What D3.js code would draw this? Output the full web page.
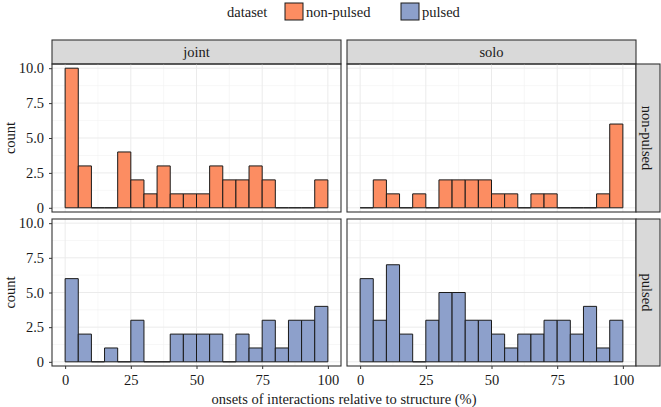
<!DOCTYPE html>
<html>
<head>
<meta charset="utf-8">
<script src="https://cdn.jsdelivr.net/npm/d3@7"></script>
<style>
  body { margin: 0; background: #fff; }
  svg text { font-family: "Liberation Serif", "Times New Roman", serif; fill: #1a1a1a; }
</style>
</head>
<body>
<div id="plot"></div>
<script>
// bins of width 5 from 0 to 100
var binStarts = [0, 5, 10, 15, 20, 25, 30, 35, 40, 45, 50, 55, 60, 65, 70, 75, 80, 85, 90, 95];
var columns = ["joint", "solo"];
var rows = ["non-pulsed", "pulsed"];

// counts per bin
var jointNonPulsed = [10, 3, 0, 0, 4, 2, 1, 3, 1, 1, 1, 3, 2, 2, 3, 2, 0, 0, 0, 2];
var soloNonPulsed  = [0, 2, 1, 0, 1, 0, 2, 2, 2, 2, 1, 1, 0, 1, 1, 0, 0, 0, 1, 6];
var jointPulsed    = [6, 2, 0, 1, 0, 3, 0, 0, 2, 2, 2, 2, 0, 2, 1, 3, 1, 3, 3, 4];
var soloPulsed     = [6, 3, 7, 2, 0, 3, 5, 5, 3, 3, 2, 1, 2, 2, 3, 3, 2, 4, 1, 3];

var xTicks = [0, 25, 50, 75, 100];
var xMinor = [12.5, 37.5, 62.5, 87.5];
var yTicks = [0, 2.5, 5, 7.5, 10];
var yMinor = [1.25, 3.75, 6.25, 8.75];

var colors = { "non-pulsed": "#FC8D62", "pulsed": "#8DA0CB" };
var counts = {
  "joint|non-pulsed": jointNonPulsed,
  "solo|non-pulsed": soloNonPulsed,
  "joint|pulsed": jointPulsed,
  "solo|pulsed": soloPulsed
};

var w = 661, h = 407;
var colX = [[52, 341], [347, 636]];
var rowY = [[64, 212], [219, 366]];
var serif = "'Liberation Serif', 'Times New Roman', serif";
var fs = "14.5px";

var svg = d3.select("#plot").append("svg")
  .attr("width", w).attr("height", h)
  .attr("font-family", serif);

var fmtY = function(d) { return d === 0 ? "0" : d3.format(".1f")(d); };

columns.forEach(function(col, ci) {
  var xScale = d3.scaleLinear().domain([-5, 105]).range(colX[ci]);

  // top strip
  svg.append("rect")
    .attr("x", colX[ci][0]).attr("y", 40)
    .attr("width", colX[ci][1] - colX[ci][0]).attr("height", 24)
    .attr("fill", "#d9d9d9").attr("stroke", "#333").attr("stroke-width", 1.1);
  svg.append("text")
    .attr("x", (colX[ci][0] + colX[ci][1]) / 2).attr("y", 57)
    .attr("text-anchor", "middle").style("font-size", fs)
    .text(col);

  rows.forEach(function(row, ri) {
    var yScale = d3.scaleLinear().domain([-0.3, 10.3]).range([rowY[ri][1], rowY[ri][0]]);
    var g = svg.append("g");
    var x0 = colX[ci][0], x1 = colX[ci][1], y0 = rowY[ri][0], y1 = rowY[ri][1];

    // grid lines
    g.selectAll(".xminor").data(xMinor).enter().append("line")
      .attr("x1", function(d) { return xScale(d); }).attr("x2", function(d) { return xScale(d); })
      .attr("y1", y0).attr("y2", y1)
      .attr("stroke", "#f2f2f2").attr("stroke-width", 0.6);
    g.selectAll(".yminor").data(yMinor).enter().append("line")
      .attr("y1", function(d) { return yScale(d); }).attr("y2", function(d) { return yScale(d); })
      .attr("x1", x0).attr("x2", x1)
      .attr("stroke", "#f2f2f2").attr("stroke-width", 0.6);
    g.selectAll(".xmajor").data(xTicks).enter().append("line")
      .attr("x1", function(d) { return xScale(d); }).attr("x2", function(d) { return xScale(d); })
      .attr("y1", y0).attr("y2", y1)
      .attr("stroke", "#ebebeb").attr("stroke-width", 1);
    g.selectAll(".ymajor").data(yTicks).enter().append("line")
      .attr("y1", function(d) { return yScale(d); }).attr("y2", function(d) { return yScale(d); })
      .attr("x1", x0).attr("x2", x1)
      .attr("stroke", "#ebebeb").attr("stroke-width", 1);

    // histogram bars (paths so empty bins still show as a baseline)
    g.selectAll(".bar").data(counts[col + "|" + row]).enter().append("path")
      .attr("d", function(d, i) {
        var a = xScale(binStarts[i]), b = xScale(binStarts[i] + 5);
        var base = yScale(0), top = yScale(d);
        return "M" + a + "," + base + "V" + top + "H" + b + "V" + base + "Z";
      })
      .attr("fill", colors[row])
      .attr("stroke", "#1a1a1a").attr("stroke-width", 1);

    // panel border
    g.append("rect")
      .attr("x", x0).attr("y", y0).attr("width", x1 - x0).attr("height", y1 - y0)
      .attr("fill", "none").attr("stroke", "#333").attr("stroke-width", 1.1);

    // y axis on left column
    if (ci === 0) {
      var yAxis = d3.axisLeft(yScale).tickValues(yTicks).tickFormat(fmtY).tickSize(3).tickPadding(5);
      var ya = svg.append("g").attr("transform", "translate(" + x0 + ",0)").call(yAxis)
        .attr("font-family", serif).attr("font-size", 14.5);
      ya.select(".domain").remove();
      ya.selectAll("line").attr("stroke", "#333");
      ya.selectAll("text").attr("fill", "#1a1a1a");
    }
    // x axis on bottom row
    if (ri === 1) {
      var xAxis = d3.axisBottom(xScale).tickValues(xTicks).tickSize(3).tickPadding(6);
      var xa = svg.append("g").attr("transform", "translate(0," + y1 + ")").call(xAxis)
        .attr("font-family", serif).attr("font-size", 14.5);
      xa.select(".domain").remove();
      xa.selectAll("line").attr("stroke", "#333");
      xa.selectAll("text").attr("fill", "#1a1a1a");
    }
    // right strip
    if (ci === 1) {
      svg.append("rect")
        .attr("x", 636).attr("y", y0).attr("width", 24).attr("height", y1 - y0)
        .attr("fill", "#d9d9d9").attr("stroke", "#333").attr("stroke-width", 1.1);
      svg.append("text")
        .attr("transform", "translate(642," + ((y0 + y1) / 2) + ") rotate(90)")
        .attr("text-anchor", "middle").style("font-size", fs)
        .text(row);
    }
  });
});

// y axis titles
rows.forEach(function(row, ri) {
  svg.append("text")
    .attr("transform", "translate(15," + ((rowY[ri][0] + rowY[ri][1]) / 2) + ") rotate(-90)")
    .attr("text-anchor", "middle").style("font-size", fs)
    .text("count");
});

// x axis title
svg.append("text")
  .attr("x", (colX[0][0] + colX[1][1]) / 2).attr("y", 404)
  .attr("text-anchor", "middle").style("font-size", fs)
  .text("onsets of interactions relative to structure (%)");

// legend
var legend = svg.append("g");
legend.append("text").attr("x", 227).attr("y", 16.5).style("font-size", fs).text("dataset");
var legendItems = [{ label: "non-pulsed", x: 285 }, { label: "pulsed", x: 401 }];
legendItems.forEach(function(d) {
  legend.append("rect")
    .attr("x", d.x).attr("y", 3).attr("width", 18).attr("height", 17)
    .attr("fill", colors[d.label]).attr("stroke", "#1a1a1a").attr("stroke-width", 1);
  legend.append("text").attr("x", d.x + 21).attr("y", 16.5).style("font-size", fs).text(d.label);
});
</script>
</body>
</html>
